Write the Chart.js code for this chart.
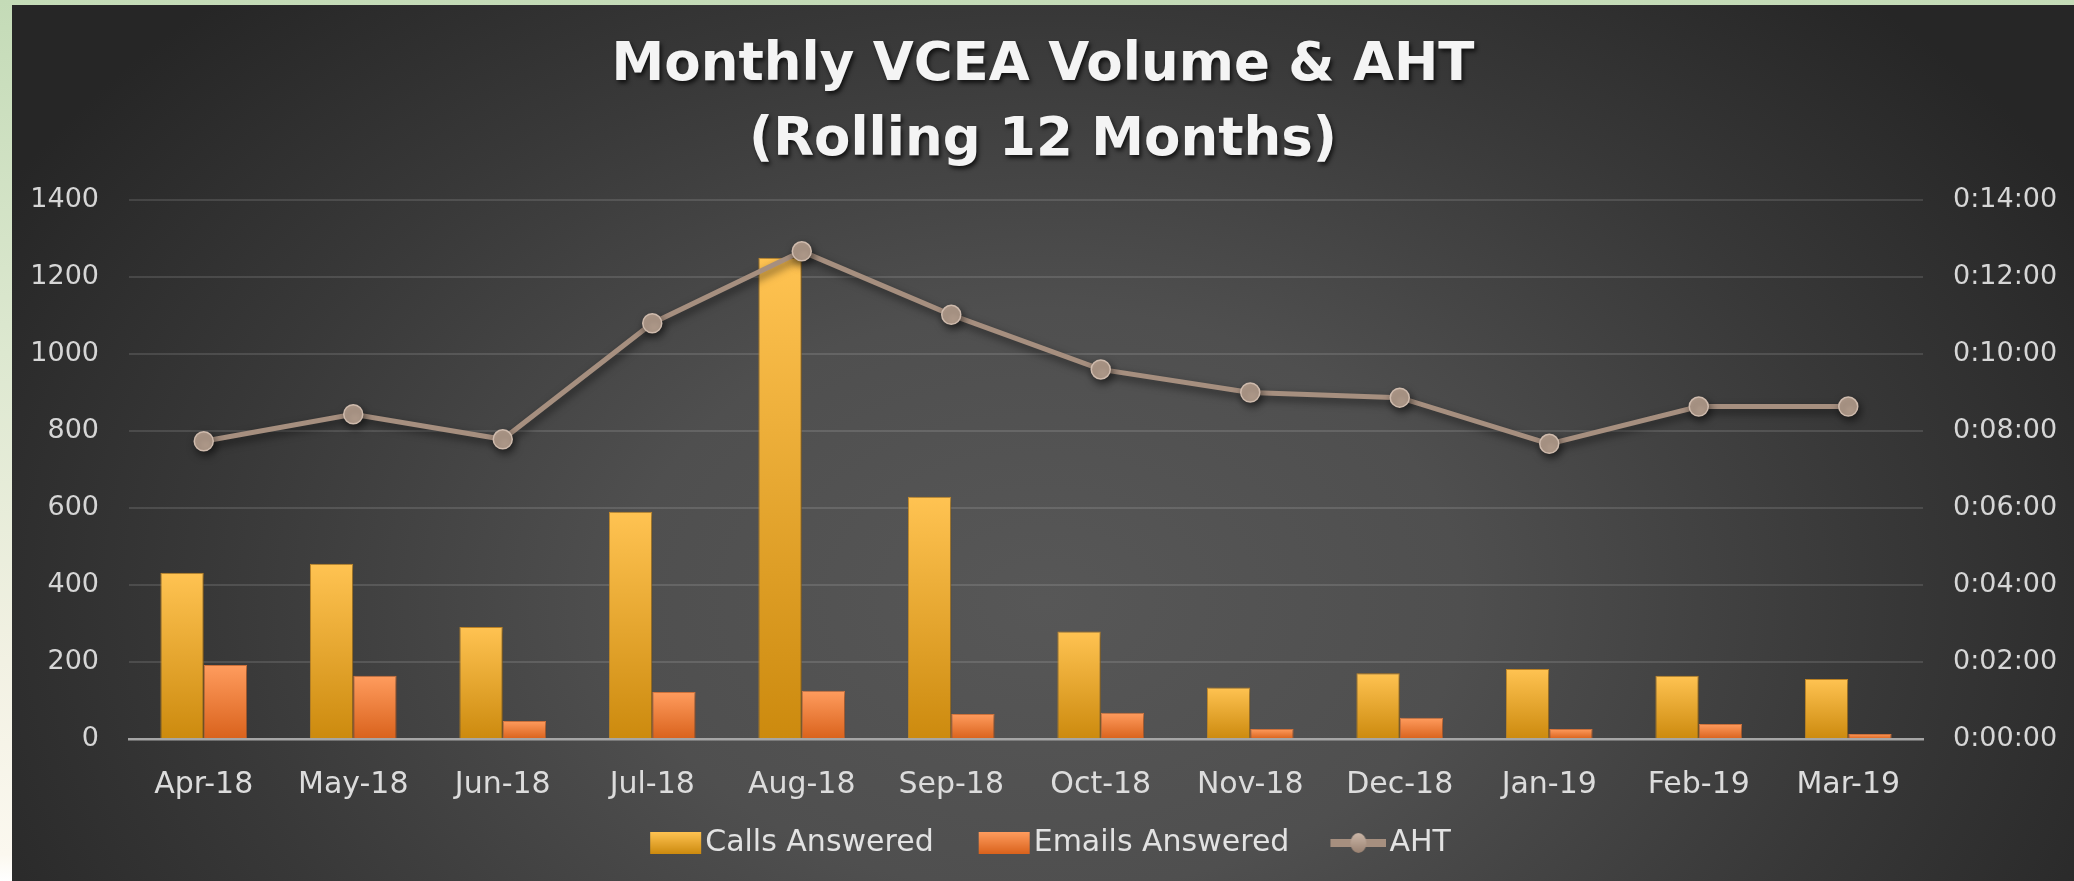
<!DOCTYPE html>
<html>
<head>
<meta charset="utf-8">
<script src="https://cdn.jsdelivr.net/npm/chart.js@4/dist/chart.umd.min.js"></script>
<style>
html, body { margin: 0; padding: 0; width: 2074px; height: 881px; overflow: hidden; }
body { background: linear-gradient(to bottom, #c4dbb7 0%, #dde8d0 40%, #f2f1e3 75%, #fbf8ef 97%, #ffffff 100%); }
#panel { position: absolute; left: 12px; top: 5px; width: 2062px; height: 876px;
  background: radial-gradient(ellipse 58% 95% at 50% 68%, #575757 0%, #4f4f4f 35%, #383838 70%, #262626 100%); }
canvas { display: block; }
</style>
</head>
<body>
<div id="panel"><canvas id="chart" width="2062" height="876"></canvas></div>
<script>
/* Monthly VCEA Volume & AHT */
const months = ['Apr-18', 'May-18', 'Jun-18', 'Jul-18', 'Aug-18', 'Sep-18', 'Oct-18', 'Nov-18', 'Dec-18', 'Jan-19', 'Feb-19', 'Mar-19'];
const callsAnswered = [432, 455, 291, 590, 1250, 629, 279, 134, 171, 182, 164, 156];
const emailsAnswered = [192, 164, 47, 122, 125, 65, 68, 26, 55, 26, 39, 13];
// AHT in seconds (0:07:44 = 464)
const ahtSeconds = [464, 506, 467, 648, 760, 661, 576, 540, 532, 460, 518, 518];
const volumeMax = 1400, volumeStep = 200;
const ahtMax = 840, ahtStep = 120;

const FONT = '"DejaVu Sans", sans-serif';

function fmtTime(sec) {
    const m = Math.floor(sec / 60), s = sec % 60;
    return '0:' + String(m).padStart(2, '0') + ':' + String(s).padStart(2, '0');
}

function barGradient(top, bottom) {
    return (c) => {
        const chart = c.chart;
        if (!chart.chartArea || c.type !== 'data') return top;
        const y = chart.scales.y;
        const g = chart.ctx.createLinearGradient(0, y.getPixelForValue(c.raw), 0, y.getPixelForValue(0));
        g.addColorStop(0, top); g.addColorStop(1, bottom);
        return g;
    };
}

// legend icons: visible part sits at the right end of a wider canvas
const ICON_W = 95;
function rectIcon(top, bottom) {
    const cv = document.createElement('canvas'); cv.width = ICON_W; cv.height = 22;
    const x = cv.getContext('2d');
    const g = x.createLinearGradient(0, 0, 0, 22);
    g.addColorStop(0, top); g.addColorStop(1, bottom);
    x.fillStyle = g; x.fillRect(ICON_W - 52, 0, 51, 22);
    return cv;
}
function lineIcon() {
    const cv = document.createElement('canvas'); cv.width = ICON_W; cv.height = 22;
    const x = cv.getContext('2d');
    const l = ICON_W - 56;
    x.fillStyle = '#a68f7f'; x.fillRect(l, 7, 56, 8);
    const g = x.createLinearGradient(0, 2, 0, 20);
    g.addColorStop(0, '#c9b4a5'); g.addColorStop(1, '#9c8474');
    x.fillStyle = g; x.beginPath(); x.ellipse(l + 28, 11, 8, 10, 0, 0, Math.PI * 2); x.fill();
    return cv;
}
const legendIcons = [rectIcon('#ffc352', '#cc8a0e'), rectIcon('#ff9c5e', '#d9621c'), lineIcon()];

const shadowPlugin = {
    id: 'shadows',
    afterLayout(chart) {
        // nudge the legend row a little to the left
        if (chart.legend) chart.legend.left -= 16;
    },
    beforeDraw(chart) {
        const tb = chart.titleBlock;
        if (tb && !tb._shadowed) {
            const orig = tb.draw.bind(tb);
            tb.draw = function (area) {
                const c = chart.ctx; c.save();
                c.shadowColor = 'rgba(0,0,0,0.7)'; c.shadowBlur = 4; c.shadowOffsetX = 2; c.shadowOffsetY = 3;
                orig(area); c.restore();
            };
            tb._shadowed = true;
        }
    },
    beforeDatasetDraw(chart, args) {
        const c = chart.ctx; c.save();
        if (args.index === 2) { c.shadowColor = 'rgba(0,0,0,0.55)'; c.shadowBlur = 8; c.shadowOffsetX = 2; c.shadowOffsetY = 4; }
        else { c.shadowColor = 'rgba(0,0,0,0.35)'; c.shadowBlur = 6; c.shadowOffsetX = 3; c.shadowOffsetY = 2; }
    },
    afterDatasetDraw(chart) { chart.ctx.restore(); }
};

new Chart(document.getElementById('chart'), {
    type: 'bar',
    data: {
        labels: months,
        datasets: [
            { label: 'Calls Answered', data: callsAnswered, yAxisID: 'y', order: 1,
              backgroundColor: barGradient('#ffc352', '#cc8a0e'), borderColor: 'rgba(214,146,36,0.9)', borderWidth: 1 },
            { label: 'Emails Answered', data: emailsAnswered, yAxisID: 'y', order: 1,
              backgroundColor: barGradient('#ff9c5e', '#d9621c'), borderColor: 'rgba(236,126,62,0.9)', borderWidth: 1 },
            { type: 'line', label: 'AHT', data: ahtSeconds, yAxisID: 'y1', order: 0,
              borderColor: '#a68f7f', borderWidth: 5, tension: 0,
              pointRadius: 9.5, pointBackgroundColor: '#b39d8d', pointBorderColor: '#cfbbad', pointBorderWidth: 1.5 }
        ]
    },
    options: {
        responsive: false, animation: false, devicePixelRatio: 1,
        layout: { padding: { left: 0, right: 0, top: 0, bottom: 13 } },
        datasets: { bar: { categoryPercentage: 0.58, barPercentage: 1 } },
        scales: {
            x: { grid: { display: false }, border: { display: true, color: '#a6a6a6', width: 2.5 },
                 ticks: { padding: 20, color: '#dcdcdc', font: { family: FONT, size: 30 } },
                 afterFit(s) { s.height = 75; } },
            y: { position: 'left', min: 0, max: volumeMax,
                 ticks: { stepSize: volumeStep, padding: 30, color: '#d6d6d6', font: { family: FONT, size: 27 },
                          callback: (v) => String(v) },
                 grid: { color: 'rgba(255,255,255,0.12)', lineWidth: 2, drawTicks: false }, border: { display: false },
                 afterFit(s) { s.width = 117; } },
            y1: { position: 'right', min: 0, max: ahtMax,
                  ticks: { stepSize: ahtStep, padding: 30, color: '#d6d6d6', font: { family: FONT, size: 27 },
                           callback: (v) => fmtTime(v) },
                  grid: { drawOnChartArea: false, drawTicks: false }, border: { display: false },
                  afterFit(s) { s.width = 151; } }
        },
        plugins: {
            title: { display: true, text: ['Monthly VCEA Volume & AHT', '(Rolling 12 Months)'],
                     color: '#f4f4f4', font: { family: FONT, size: 53, weight: 'bold', lineHeight: 1.415 },
                     padding: { top: 24, bottom: 21 } },
            legend: { position: 'bottom',
                      labels: { usePointStyle: true, pointStyleWidth: 71, padding: 14, color: '#e2e2e2',
                                font: { family: FONT, size: 30 },
                                generateLabels(chart) {
                                    return chart.data.datasets.map((ds, i) => ({
                                        text: ds.label, pointStyle: legendIcons[i], fillStyle: 'transparent',
                                        strokeStyle: 'transparent', lineWidth: 0, hidden: false, datasetIndex: i, fontColor: '#e2e2e2'
                                    }));
                                } } },
            tooltip: { enabled: false }
        }
    },
    plugins: [shadowPlugin]
});
</script>
</body>
</html>
